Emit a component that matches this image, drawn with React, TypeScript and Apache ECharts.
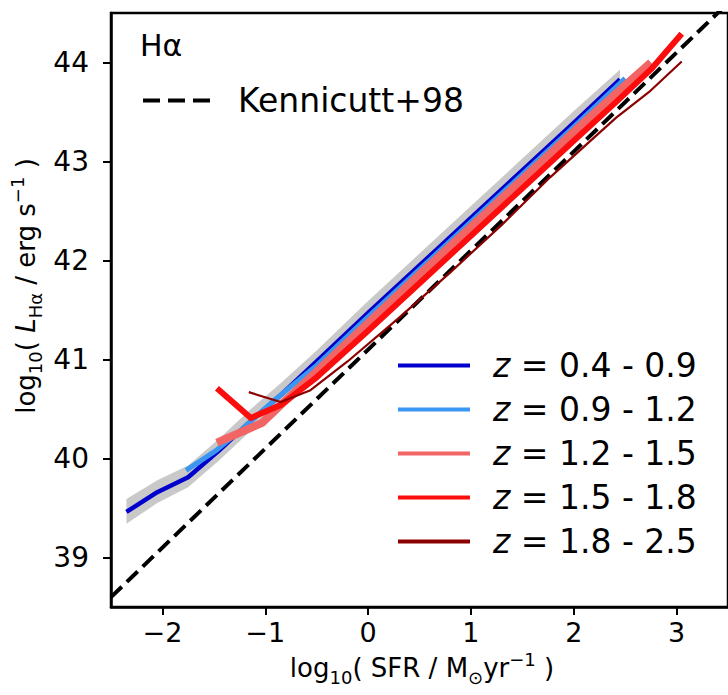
import React, { useEffect, useRef } from 'react';
import * as echarts from 'echarts';

const FONT = 'DejaVu Sans';

const xTicks = [-2, -1, 0, 1, 2, 3];
const yTicks = [39, 40, 41, 42, 43, 44];

const kennX = [-2.5, 3.5];
const kennY = [38.6, 44.6];

const bandX = [-2.35, -2.05, -1.75, -1.45, -1.15, -0.85, -0.5, 0, 0.5, 1, 1.5, 2, 2.45];
const bandLo = [39.34, 39.55, 39.71, 39.98, 40.27, 40.54, 40.87, 41.36, 41.84, 42.32, 42.8, 43.28, 43.72];
const bandHi = [39.59, 39.78, 39.93, 40.2, 40.49, 40.76, 41.09, 41.59, 42.07, 42.55, 43.03, 43.51, 43.93];

const z1X = [-2.35, -2.05, -1.75, -1.45, -1.15, -0.85, -0.5, 0, 0.5, 1, 1.5, 2, 2.45];
const z1Y = [39.46, 39.66, 39.81, 40.08, 40.37, 40.64, 40.98, 41.47, 41.95, 42.43, 42.91, 43.39, 43.83];

const z2X = [-1.77, -1.48, -1.2, -0.9, -0.5, 0, 0.5, 1, 1.5, 2, 2.5];
const z2Y = [39.88, 40.08, 40.32, 40.6, 40.94, 41.43, 41.91, 42.39, 42.87, 43.35, 43.84];

const z3X = [-1.47, -1.03, -0.85, -0.5, 0, 0.5, 1, 1.5, 2, 2.5, 2.75];
const z3Y = [40.16, 40.36, 40.54, 40.88, 41.37, 41.86, 42.34, 42.82, 43.3, 43.77, 44.0];

const z4X = [-1.47, -1.14, -0.85, -0.5, 0, 0.5, 1, 1.5, 2, 2.4, 2.75, 3.05];
const z4Y = [40.71, 40.41, 40.54, 40.82, 41.29, 41.77, 42.25, 42.73, 43.21, 43.59, 43.93, 44.29];

const z5X = [-1.16, -0.85, -0.56, -0.2, 0.3, 0.8, 1.3, 1.77, 2.1, 2.41, 2.73, 3.05];
const z5Y = [40.67, 40.57, 40.69, 40.98, 41.42, 41.88, 42.36, 42.84, 43.15, 43.44, 43.7, 44.01];

const zNames = ['z = 0.4 - 0.9', 'z = 0.9 - 1.2', 'z = 1.2 - 1.5', 'z = 1.5 - 1.8', 'z = 1.8 - 2.5'];
const zXs = [z1X, z2X, z3X, z4X, z5X];
const zYs = [z1Y, z2Y, z3Y, z4Y, z5Y];

const zColors = ['#0000cc', '#3a96f0', '#f26565', '#fb0d0d', '#8b0000'];
const zWidths = [4.5, 5, 8, 6, 2.2];

const DASH_ICON = 'path://M0,0h17v4h-17z M25,0h17v4h-17z M50,0h17v4h-17z';

const zip = (xs: number[], ys: number[]) => xs.map((x, i) => [x, ys[i]]);
const fmt = (v: number) => (v < 0 ? '\u2212' + Math.abs(v) : String(v));

export default function App() {
  const ref = useRef<HTMLDivElement>(null);
  useEffect(() => {
    if (!ref.current) return;
    const chart = echarts.init(ref.current, undefined, { renderer: 'svg' });
    const base = { fontFamily: FONT, color: '#000' };
    const labRich = {
      n: { ...base, fontSize: 26, lineHeight: 36 },
      i: { ...base, fontSize: 26, lineHeight: 36, fontStyle: 'italic' },
      s: { ...base, fontSize: 18, lineHeight: 18, verticalAlign: 'bottom' },
      p: { ...base, fontSize: 18, lineHeight: 18, verticalAlign: 'top' },
    };
    const option: any = {
      animation: false,
      grid: {
        left: 111, top: 13, width: 622, height: 594,
        show: true, borderColor: '#000', borderWidth: 2.5, backgroundColor: 'transparent',
        containLabel: false,
      },
      xAxis: {
        type: 'value', min: -2.5, max: 3.5,
        axisLine: { show: true, onZero: false, lineStyle: { color: '#000', width: 2.5 } },
        axisTick: { show: true, customValues: xTicks, length: 8, lineStyle: { color: '#000', width: 2 } },
        axisLabel: { customValues: xTicks, formatter: fmt, fontSize: 27, fontFamily: FONT, color: '#000', margin: 12 },
        splitLine: { show: false },
      },
      yAxis: {
        type: 'value', min: 38.5, max: 44.5,
        axisLine: { show: true, onZero: false, lineStyle: { color: '#000', width: 2.5 } },
        axisTick: { show: true, customValues: yTicks, length: 8, lineStyle: { color: '#000', width: 2 } },
        axisLabel: { customValues: yTicks, formatter: fmt, fontSize: 28, fontFamily: FONT, color: '#000', margin: 22 },
        splitLine: { show: false },
      },
      legend: [
        {
          data: [{ name: 'Kennicutt+98', icon: DASH_ICON }], left: 143, top: 84, itemWidth: 67, itemHeight: 4,
          padding: 0, selectedMode: false, symbolKeepAspect: false,
          formatter: (n: string) => `{sp|}{t|${n}}`,
          textStyle: { rich: { sp: { width: 23 }, t: { ...base, fontSize: 33, lineHeight: 33 } } },
        },
        {
          data: zNames, orient: 'vertical', left: 398, top: 349, itemWidth: 72, itemHeight: 4,
          padding: 0, itemGap: 11, icon: 'rect', selectedMode: false,
          formatter: (n: string) => `{sp|}{i|z}{t|${n.slice(1)}}`,
          textStyle: {
            rich: {
              sp: { width: 18 },
              i: { ...base, fontSize: 33, lineHeight: 33, fontStyle: 'italic' },
              t: { ...base, fontSize: 33, lineHeight: 33 },
            },
          },
        },
      ],
      graphic: [
        { type: 'text', x: 140, y: 45, silent: true, style: { text: 'H\u03b1', fontSize: 30, fontFamily: FONT, fill: '#000', align: 'left', verticalAlign: 'middle' } },
        {
          type: 'text', x: 422, y: 668, silent: true,
          style: { text: '{n|log}{s|10}{n|( SFR / M}{s|\u2299}{n|yr}{p|\u22121}{n| )}', rich: labRich, align: 'center', verticalAlign: 'middle' },
        },
        {
          type: 'text', x: 26, y: 286, rotation: Math.PI / 2, silent: true,
          style: { text: '{n|log}{s|10}{n|( }{i|L}{s|H\u03b1}{n| / erg s}{p|\u22121}{n| )}', rich: labRich, align: 'center', verticalAlign: 'middle' },
        },
      ],
      series: [
        {
          type: 'custom', name: 'band', silent: true, z: 1,
          data: [[bandX[0], bandLo[0]]],
          renderItem: (_p: any, api: any) => {
            const pts: number[][] = [];
            for (let i = 0; i < bandX.length; i++) pts.push(api.coord([bandX[i], bandHi[i]]));
            for (let i = bandX.length - 1; i >= 0; i--) pts.push(api.coord([bandX[i], bandLo[i]]));
            return { type: 'polygon', shape: { points: pts }, style: { fill: '#c9c9c9' } };
          },
        },
        {
          type: 'line', name: 'Kennicutt+98', data: zip(kennX, kennY), symbol: 'none', z: 2,
          color: '#000', lineStyle: { color: '#000', width: 4, type: [15, 7] },
        },
        ...zNames.map((n, i) => ({
          type: 'line', name: n, data: zip(zXs[i], zYs[i]), symbol: 'none', z: 3 + i,
          color: zColors[i], lineStyle: { color: zColors[i], width: zWidths[i], join: 'round' },
        })),
      ],
    };
    chart.setOption(option);
    return () => chart.dispose();
  }, []);
  return <div ref={ref} style={{ position: 'absolute', left: 0, top: 0, width: 728, height: 695 }} />;
}
